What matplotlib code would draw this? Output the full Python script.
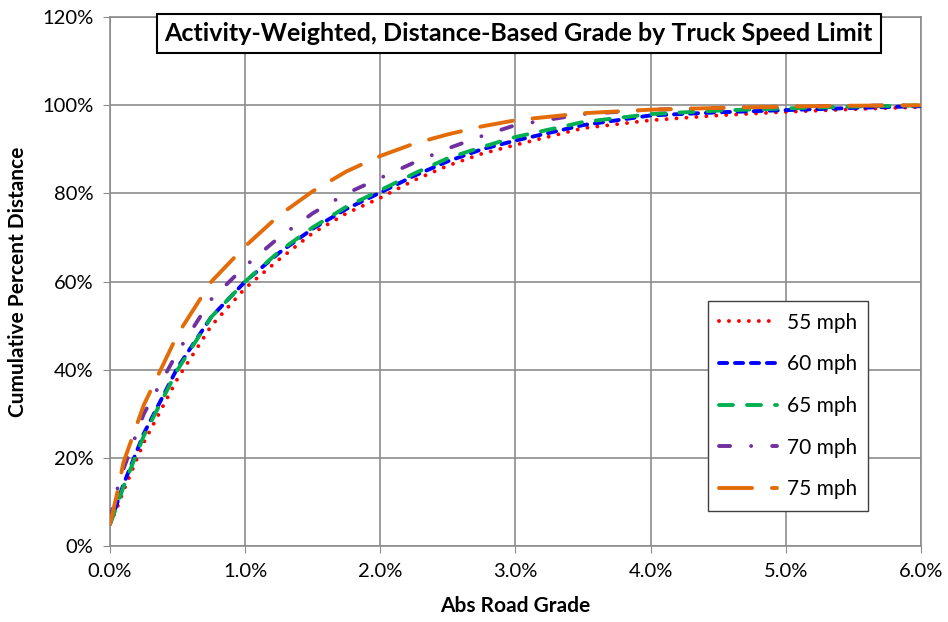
import numpy as np
import matplotlib.pyplot as plt
from matplotlib.ticker import FuncFormatter

plt.rcParams['font.family'] = ['Lato', 'DejaVu Sans']

# abs road grade (%) and cumulative percent distance (%)
grade = [0, 0.05, 0.1, 0.25, 0.5, 0.75, 1.0, 1.25, 1.5, 1.75, 2.0, 2.25, 2.5,
         2.75, 3.0, 3.5, 4.0, 4.5, 5.0, 5.5, 6.0]
mph55 = [5, 8.5, 12.5, 23.5, 38, 50, 58.5, 65, 71, 75.5, 79, 83, 86.3,
         89, 91, 94.8, 96.6, 97.7, 98.5, 99.1, 99.6]
mph60 = [5, 9.5, 14, 25.5, 40.5, 52, 60, 66.5, 72, 76.5, 80.2, 84, 87.3,
         90, 92, 95.5, 97.7, 98.4, 98.9, 99.4, 99.8]
mph65 = [5, 9, 13.5, 25, 40, 52, 60, 66.8, 72.3, 77, 80.7, 84.5, 88,
         90.5, 92.8, 96.2, 98, 98.8, 99.3, 99.7, 100]
mph70 = [6, 12.5, 17.5, 30, 44, 56, 63.5, 70, 75.5, 80, 83.5, 87, 90.2,
         93, 95.5, 98, 99, 99.4, 99.7, 99.9, 100]
mph75 = [5, 11.5, 19, 32, 48, 60, 68, 75, 80.5, 85, 88.5, 91.3, 93.4,
         95.2, 96.6, 98.2, 99, 99.4, 99.7, 99.9, 100]
labels = ['55 mph', '60 mph', '65 mph', '70 mph', '75 mph']

fig = plt.figure(figsize=(9.48, 6.22), dpi=100)
ax = fig.add_axes([0.116, 0.122, 0.8555, 0.8505])

lw = 2.8
ax.plot(grade, mph55, color='#FF0000', lw=lw, ls=(0, (0.01, 2.55)),
        dash_capstyle='round', label=labels[0], zorder=3)
ax.plot(grade, mph60, color='#0000FF', lw=lw, ls=(0, (2.1, 2.0)),
        dash_capstyle='round', label=labels[1], zorder=3)
ax.plot(grade, mph65, color='#00B050', lw=lw, ls=(0, (3.6, 3.6)),
        dash_capstyle='round', label=labels[2], zorder=3)
ax.plot(grade, mph70, color='#7030A0', lw=lw, ls=(0, (2.85, 5.4, 0.01, 5.4)),
        dash_capstyle='round', label=labels[3], zorder=3)
ax.plot(grade, mph75, color='#E36C09', lw=lw, ls=(0, (8.5, 5.1)),
        dash_capstyle='round', label=labels[4], zorder=3)

ax.set_xlim(0, 6)
ax.set_ylim(0, 120)
ax.set_xticks(np.arange(0, 6.01, 1))
ax.set_yticks(np.arange(0, 121, 20))
ax.xaxis.set_major_formatter(FuncFormatter(lambda v, p: f'{v:.1f}%'))
ax.yaxis.set_major_formatter(FuncFormatter(lambda v, p: f'{v:.0f}%'))
ax.grid(True, color='#8C8C8C', lw=1.2)
ax.set_axisbelow(True)
for s in ax.spines.values():
    s.set_color('#8C8C8C')
    s.set_linewidth(1.2)
ax.tick_params(direction='out', length=5, color='#8C8C8C', labelsize=14.5, pad=7)

ax.set_xlabel('Abs Road Grade', fontsize=15, fontweight='bold', labelpad=12)
ax.set_ylabel('Cumulative Percent Distance', fontsize=15, fontweight='bold', labelpad=10)

ax.text(0.504, 0.969, 'Activity-Weighted, Distance-Based Grade by Truck Speed Limit',
        transform=ax.transAxes, ha='center', va='center', fontsize=18,
        fontweight='bold', zorder=5,
        bbox=dict(boxstyle='square,pad=0.32', fc='white', ec='black', lw=1.5))

leg = ax.legend(loc='upper left', bbox_to_anchor=(0.737, 0.463), fontsize=15,
                handlelength=2.8, labelspacing=1.04, borderpad=0.55,
                handletextpad=0.45, borderaxespad=0, fancybox=False,
                framealpha=1, edgecolor='#404040')
leg.get_frame().set_linewidth(1.0)

fig.savefig('out.png', dpi=100)
